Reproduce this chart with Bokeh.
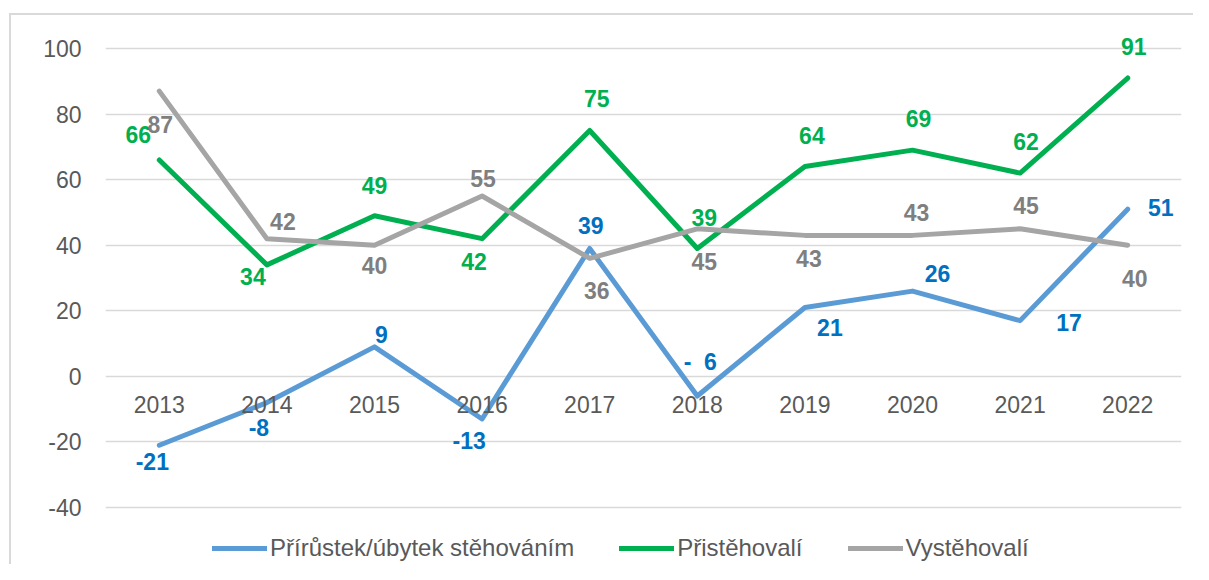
from bokeh.plotting import figure
from bokeh.models import Range1d, FactorRange, Legend, LegendItem, FixedTicker, ColumnDataSource, PrintfTickFormatter
from bokeh.core.properties import value
from bokeh.embed import file_html
from bokeh.resources import INLINE

# ---- data ----
years = ["2013", "2014", "2015", "2016", "2017", "2018", "2019", "2020", "2021", "2022"]
net_migration = [-21, -8, 9, -13, 39, -6, 21, 26, 17, 51]
immigrants = [66, 34, 49, 42, 75, 39, 64, 69, 62, 91]
emigrants = [87, 42, 40, 55, 36, 45, 43, 43, 45, 40]
y_ticks = [-40, -20, 0, 20, 40, 60, 80, 100]
series_names = ["Přírůstek/úbytek stěhováním", "Přistěhovalí", "Vystěhovalí"]

# ---- label placement (screen px offsets from each point) ----
net_off = [(-7, 16), (-8, 25), (7, -12), (-13, 22), (1, -23), (3, -34), (25, 20), (25, -18), (49, 2), (33, -2)]
imm_off = [(-21, -25), (-14, 12), (0, -30), (-8, 23), (7, -32), (7, -31), (7, -31), (6, -32), (6, -32), (6, -32)]
emi_off = [(1, 33), (16, -17), (0, 20), (1, -18), (7, 32), (7, 33), (4, 23), (4, -23), (6, -23), (7, 33)]


def fmt(v):
    return str(v)


net_text = [fmt(v) for v in net_migration]
net_text[5] = "-\u00a0\u00a0" + str(abs(net_migration[5]))  # accounting-style label in source
imm_text = [fmt(v) for v in immigrants]
emi_text = [fmt(v) for v in emigrants]

FONT = "Liberation Sans"
BLUE, BLUE_TXT = "#5b9bd5", "#0070c0"
GREEN = "#00b050"
GRAY, GRAY_TXT = "#a5a5a5", "#7f7f7f"
AXIS_TXT = "#595959"

# frame spans the full canvas height; value axis -40..100 sits inside it
px_per_unit = 459 / 140
y_lo = -40 - 57 / px_per_unit
y_hi = 100 + 35 / px_per_unit

p = figure(
    x_range=FactorRange(*years),
    y_range=Range1d(y_lo, y_hi),
    width=1184, height=551,
    output_backend="svg", toolbar_location=None,
    min_border_left=96, min_border_right=12, min_border_top=0, min_border_bottom=0,
)
p.styles = {"margin-top": "13px", "margin-left": "9px",
            "box-shadow": "inset 2px 2px 0 0 #d9d9d9"}
p.border_fill_color = None
p.background_fill_color = None
p.outline_line_color = None

p.xgrid.visible = False
p.ygrid.grid_line_color = "#d9d9d9"
p.ygrid.grid_line_width = 1.3
p.yaxis.ticker = FixedTicker(ticks=y_ticks)
p.yaxis.formatter = PrintfTickFormatter(format="%d")
for ax in (p.xaxis, p.yaxis):
    ax.axis_line_color = None
    ax.major_tick_line_color = None
    ax.minor_tick_line_color = None
    ax.major_label_text_font = FONT
    ax.major_label_text_font_size = "23px"
    ax.major_label_text_color = AXIS_TXT
p.yaxis.major_label_standoff = 18
p.xaxis.fixed_location = 0
p.xaxis.major_label_standoff = 14

r_net = p.line(years, net_migration, line_width=5, color=BLUE, line_join="round", line_cap="round")
r_imm = p.line(years, immigrants, line_width=5, color=GREEN, line_join="round", line_cap="round")
r_emi = p.line(years, emigrants, line_width=5, color=GRAY, line_join="round", line_cap="round")


def labels(vals, texts, offs, color):
    src = ColumnDataSource(dict(x=years, y=vals, t=texts,
                                dx=[o[0] for o in offs], dy=[o[1] for o in offs]))
    p.text(x="x", y="y", text="t", x_offset="dx", y_offset="dy", source=src,
           text_align="center", text_baseline="middle", text_color=color,
           text_font=value(FONT), text_font_size="23px", text_font_style="bold")


labels(net_migration, net_text, net_off, BLUE_TXT)
labels(immigrants, imm_text, imm_off, GREEN)
labels(emigrants, emi_text, emi_off, GRAY_TXT)

legend = Legend(
    items=[LegendItem(label=series_names[0], renderers=[r_net]),
           LegendItem(label=series_names[1], renderers=[r_imm]),
           LegendItem(label=series_names[2], renderers=[r_emi])],
    location=(107, 2), orientation="horizontal",
    border_line_color=None, background_fill_alpha=0,
    label_text_font=FONT, label_text_font_size="24px", label_text_color=AXIS_TXT,
    glyph_width=55, glyph_height=24, label_height=24, label_standoff=3,
    spacing=45, padding=0, margin=0,
)
p.add_layout(legend)

open("out.html", "w").write(file_html(p, INLINE))
